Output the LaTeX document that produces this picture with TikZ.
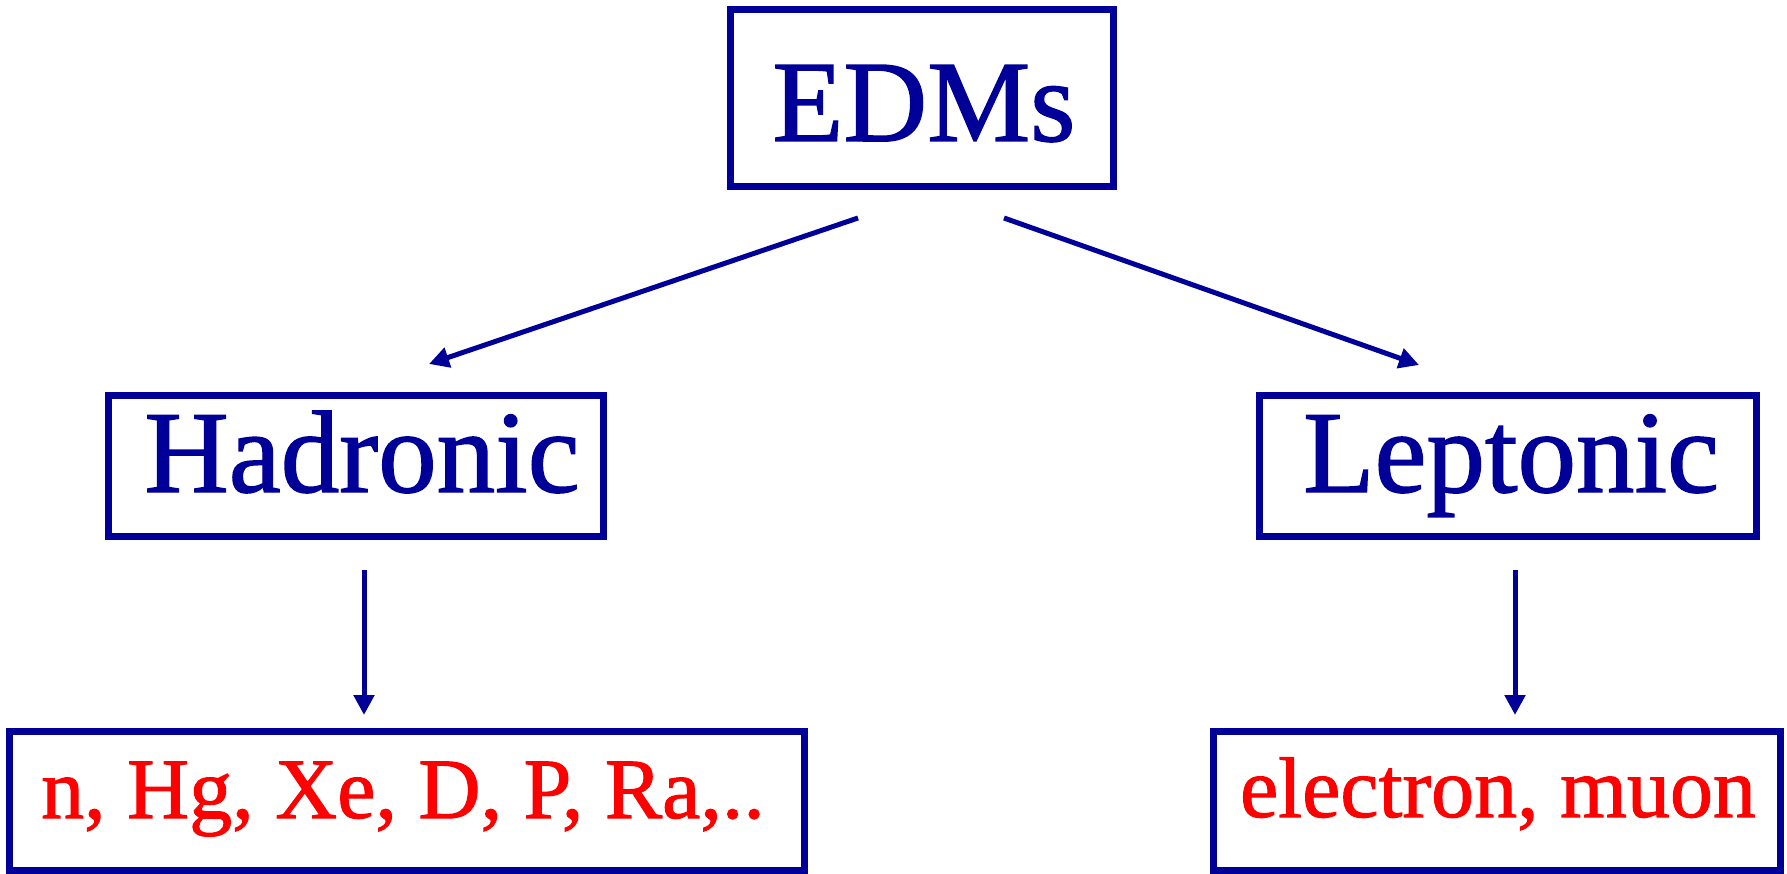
\documentclass[tikz,border=0pt]{standalone}
\usepackage{fontspec}
\setmainfont{Liberation Serif}[FakeBold=1.2]
\usetikzlibrary{arrows.meta}
\definecolor{edmblue}{RGB}{0,0,153}
\definecolor{edmred}{RGB}{255,0,0}
\tikzset{
  box/.style={draw=edmblue, line width=7pt, rectangle, inner sep=0pt},
  lbl/.style={anchor=base, inner sep=0pt, text=edmblue},
  link/.style={draw=edmblue, line width=5pt, -{Triangle[length=20pt,width=20pt]}},
}
\begin{document}
\begin{tikzpicture}[x=1pt, y=-1pt]
  \useasboundingbox (0,0) rectangle (1787,874);
  % boxes
  \node[box, minimum width=383pt, minimum height=177pt] (edm) at (922,98){};
  \node[box, minimum width=495pt, minimum height=141pt] (had) at (356,466){};
  \node[box, minimum width=497pt, minimum height=141pt] (lep) at (1508,466){};
  \node[box, minimum width=795pt, minimum height=139pt] (hlist) at (407,801){};
  \node[box, minimum width=567pt, minimum height=139pt] (llist) at (1497,801){};
  % texts
  \node[lbl, font=\fontsize{116}{120}\selectfont] (edmtxt) at (924,141){EDMs};
  \node[lbl, font=\fontsize{117}{120}\selectfont] (hadtxt) at (362,492){Hadronic};
  \node[lbl, font=\fontsize{117}{120}\selectfont] (leptxt) at (1511,492){Leptonic};
  \node[lbl, text=edmred, font=\fontsize{86}{90}\selectfont] (hlisttxt) at (403,818){n, Hg, Xe, D, P, Ra,..};
  \node[lbl, text=edmred, font=\fontsize{86}{90}\selectfont] (llisttxt) at (1498,817){electron, muon};
  % arrows
  \coordinate (edmL) at (858,218);
  \coordinate (edmR) at (1004,218);
  \coordinate (hadT) at (429,364);
  \coordinate (lepT) at (1419,365);
  \coordinate (hadB) at (364,570);
  \coordinate (lepB) at (1515,570);
  \coordinate (hlistT) at (364,715);
  \coordinate (llistT) at (1515,715);
  \draw[link] (edmL) -- (hadT);
  \draw[link] (edmR) -- (lepT);
  \draw[link] (hadB) -- (hlistT);
  \draw[link] (lepB) -- (llistT);
\end{tikzpicture}
\end{document}
